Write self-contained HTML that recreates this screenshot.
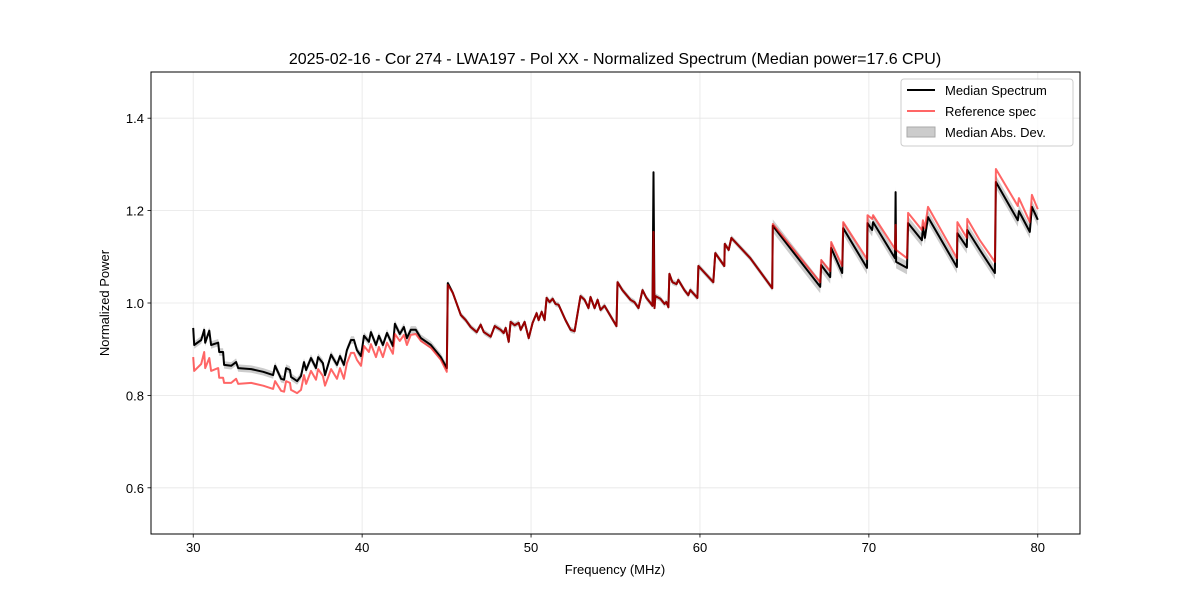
<!DOCTYPE html>
<html><head><meta charset="utf-8"><style>
body{margin:0;background:#fff;font-family:"Liberation Sans",sans-serif}
svg text{font-family:"Liberation Sans",sans-serif;fill:#000}
</style></head><body>
<svg id="chart" width="1200" height="600" viewBox="0 0 1200 600" xmlns="http://www.w3.org/2000/svg">
<rect width="1200" height="600" fill="#fff"/>
<g id="grid"></g>
<g id="series"></g>
<rect x="151" y="72" width="929" height="462" fill="none" stroke="#000" stroke-width="1"/>
<g id="ticks"></g>
<text x="615" y="64" font-size="16" text-anchor="middle">2025-02-16 - Cor 274 - LWA197 - Pol XX - Normalized Spectrum (Median power=17.6 CPU)</text>
<text x="615" y="574" font-size="13" text-anchor="middle">Frequency (MHz)</text>
<text transform="translate(109,303) rotate(-90)" font-size="13" text-anchor="middle">Normalized Power</text>
<g>
<rect x="901" y="79" width="172" height="67" rx="3" fill="#fff" fill-opacity="0.8" stroke="#ccc"/>
<line x1="907" y1="90" x2="935" y2="90" stroke="#000" stroke-width="2"/>
<text x="945" y="95" font-size="13">Median Spectrum</text>
<line x1="907" y1="111" x2="935" y2="111" stroke="#ff6666" stroke-width="2"/>
<text x="945" y="116" font-size="13">Reference spec</text>
<rect x="907" y="127" width="28" height="10" fill="#ccc" stroke="#aaa"/>
<text x="945" y="137" font-size="13">Median Abs. Dev.</text>
</g>
</svg>
<script>
const freqs=[30.00,30.06,30.47,30.65,30.71,30.95,31.06,31.48,31.54,31.77,31.83,32.25,32.54,32.66,33.43,34.14,34.73,34.85,35.20,35.38,35.50,35.73,35.79,36.15,36.38,36.56,36.68,36.97,37.27,37.39,37.68,37.80,38.16,38.51,38.69,38.92,39.10,39.34,39.52,39.69,39.93,40.11,40.40,40.52,40.82,40.99,41.23,41.47,41.82,41.94,42.23,42.47,42.65,42.88,43.18,43.48,44.07,44.66,45.01,45.07,45.37,45.84,46.13,46.43,46.78,47.02,47.20,47.61,47.85,48.20,48.38,48.50,48.68,48.79,49.03,49.27,49.39,49.62,49.86,50.09,50.33,50.45,50.63,50.80,50.92,51.10,51.28,51.45,51.63,52.04,52.34,52.58,52.93,53.17,53.40,53.52,53.76,53.94,54.11,54.35,55.06,55.12,55.41,55.89,56.12,56.36,56.60,56.83,57.07,57.19,57.25,57.31,57.36,57.66,57.90,58.01,58.13,58.19,58.37,58.61,58.72,59.08,59.31,59.43,59.85,59.91,60.79,60.91,61.44,61.47,61.70,61.86,62.98,64.28,64.31,67.12,67.18,67.71,67.77,68.42,68.48,69.89,69.92,70.19,70.25,71.55,71.58,71.61,72.26,72.32,73.14,73.20,73.32,73.50,75.21,75.24,75.80,75.83,76.57,77.46,77.52,78.82,78.88,79.53,79.65,80.00];
const medianVals=[0.946,0.909,0.920,0.942,0.914,0.940,0.909,0.914,0.894,0.894,0.866,0.864,0.872,0.859,0.857,0.851,0.844,0.864,0.836,0.834,0.859,0.855,0.840,0.831,0.842,0.872,0.855,0.881,0.859,0.883,0.870,0.844,0.888,0.866,0.885,0.866,0.898,0.920,0.920,0.898,0.885,0.929,0.916,0.937,0.909,0.929,0.909,0.935,0.907,0.955,0.933,0.948,0.924,0.942,0.942,0.924,0.909,0.883,0.859,1.043,1.022,0.974,0.963,0.948,0.937,0.953,0.937,0.927,0.950,0.942,0.935,0.946,0.916,0.959,0.952,0.957,0.942,0.959,0.924,0.957,0.978,0.963,0.981,0.963,1.011,1.002,1.009,0.998,0.996,0.963,0.942,0.939,1.015,1.007,0.989,1.013,0.989,1.007,0.985,0.994,0.950,1.045,1.028,1.007,1.002,0.989,1.028,1.011,1.000,0.994,1.283,0.989,1.015,1.009,0.998,1.002,0.991,1.063,1.045,1.041,1.050,1.028,1.017,1.028,1.011,1.080,1.045,1.108,1.080,1.128,1.115,1.141,1.097,1.032,1.167,1.035,1.082,1.056,1.119,1.065,1.162,1.076,1.173,1.158,1.175,1.097,1.240,1.089,1.076,1.173,1.136,1.164,1.141,1.186,1.078,1.151,1.121,1.158,1.115,1.065,1.262,1.179,1.199,1.154,1.208,1.180];
const referenceVals=[0.883,0.853,0.868,0.894,0.859,0.881,0.853,0.859,0.838,0.838,0.827,0.827,0.836,0.825,0.827,0.821,0.814,0.831,0.810,0.808,0.831,0.827,0.812,0.805,0.812,0.844,0.825,0.853,0.834,0.857,0.842,0.821,0.857,0.836,0.859,0.836,0.870,0.892,0.892,0.877,0.864,0.907,0.894,0.911,0.883,0.905,0.883,0.914,0.890,0.933,0.918,0.931,0.909,0.931,0.933,0.918,0.903,0.877,0.851,1.039,1.022,0.974,0.963,0.948,0.937,0.953,0.937,0.927,0.950,0.942,0.935,0.946,0.916,0.959,0.952,0.957,0.942,0.959,0.924,0.957,0.978,0.963,0.981,0.963,1.011,1.002,1.009,0.998,0.996,0.963,0.942,0.939,1.015,1.007,0.989,1.013,0.989,1.007,0.985,0.994,0.950,1.045,1.028,1.007,1.002,0.989,1.028,1.011,1.000,0.994,1.154,0.989,1.015,1.009,0.998,1.002,0.991,1.063,1.045,1.041,1.050,1.028,1.017,1.028,1.011,1.080,1.045,1.108,1.080,1.128,1.115,1.141,1.097,1.032,1.171,1.045,1.093,1.069,1.132,1.080,1.175,1.095,1.190,1.182,1.190,1.117,1.169,1.115,1.097,1.195,1.158,1.179,1.162,1.208,1.097,1.175,1.141,1.182,1.136,1.089,1.290,1.210,1.227,1.175,1.234,1.203];
const madBreaks=[30,45.05,64.3,80.1];
const madLevels=[0.008,0.006,0.014];
const xTicks=[30,40,50,60,70,80];
const yTicks=[0.6,0.8,1.0,1.2,1.4];
const yTickLabels=["0.6","0.8","1.0","1.2","1.4"];

const NS="http://www.w3.org/2000/svg";
const X0=151,X1=1080,Y0=534,Y1=72,xmin=27.5,xmax=82.5,ymin=0.5,ymax=1.5;
const sx=f=>X0+(f-xmin)/(xmax-xmin)*(X1-X0);
const sy=v=>Y0-(v-ymin)/(ymax-ymin)*(Y0-Y1);
function mk(tag,attrs,parent){const e=document.createElementNS(NS,tag);for(const k in attrs)e.setAttribute(k,attrs[k]);parent.appendChild(e);return e;}
const grid=document.getElementById('grid'),ticks=document.getElementById('ticks'),ser=document.getElementById('series');
xTicks.forEach(t=>{
 const x=sx(t);
 const g=mk('line',{x1:x,x2:x,y1:Y1,y2:Y0,stroke:'#e6e6e6','stroke-width':0.8},grid);
 
 
 mk('line',{x1:x,x2:x,y1:Y0,y2:Y0+3.5,stroke:'#000','stroke-width':0.8},ticks);
 const tx=mk('text',{x:x,y:Y0+18,'font-size':13,'text-anchor':'middle'},ticks);
 tx.textContent=t;
 
 
});
yTicks.forEach((t,i)=>{
 const y=sy(t);
 const g=mk('line',{x1:X0,x2:X1,y1:y,y2:y,stroke:'#e6e6e6','stroke-width':0.8},grid);
 
 
 mk('line',{x1:X0-3.5,x2:X0,y1:y,y2:y,stroke:'#000','stroke-width':0.8},ticks);
 const tx=mk('text',{x:X0-7,y:y+5,'font-size':13,'text-anchor':'end'},ticks);
 tx.textContent=yTickLabels[i];
 
 
});
function madAt(f){for(let i=0;i<madLevels.length;i++){if(f<madBreaks[i+1])return madLevels[i];}return madLevels[madLevels.length-1];}
let up=[],dn=[];
freqs.forEach((f,i)=>{const m=madAt(f);up.push(sx(f).toFixed(1)+','+sy(medianVals[i]+m).toFixed(1));dn.push(sx(f).toFixed(1)+','+sy(medianVals[i]-m).toFixed(1));});
const band=mk('polygon',{points:up.concat(dn.reverse()).join(' '),fill:'#000','fill-opacity':0.2,stroke:'none'},ser);


const medLine=mk('polyline',{points:freqs.map((f,i)=>sx(f).toFixed(1)+','+sy(medianVals[i]).toFixed(1)).join(' '),fill:'none',stroke:'#000','stroke-width':2,'stroke-linejoin':'round'},ser);


const refLine=mk('polyline',{points:freqs.map((f,i)=>sx(f).toFixed(1)+','+sy(referenceVals[i]).toFixed(1)).join(' '),fill:'none',stroke:'#ff0000','stroke-opacity':0.6,'stroke-width':2,'stroke-linejoin':'round'},ser);


</script>
</body></html>
